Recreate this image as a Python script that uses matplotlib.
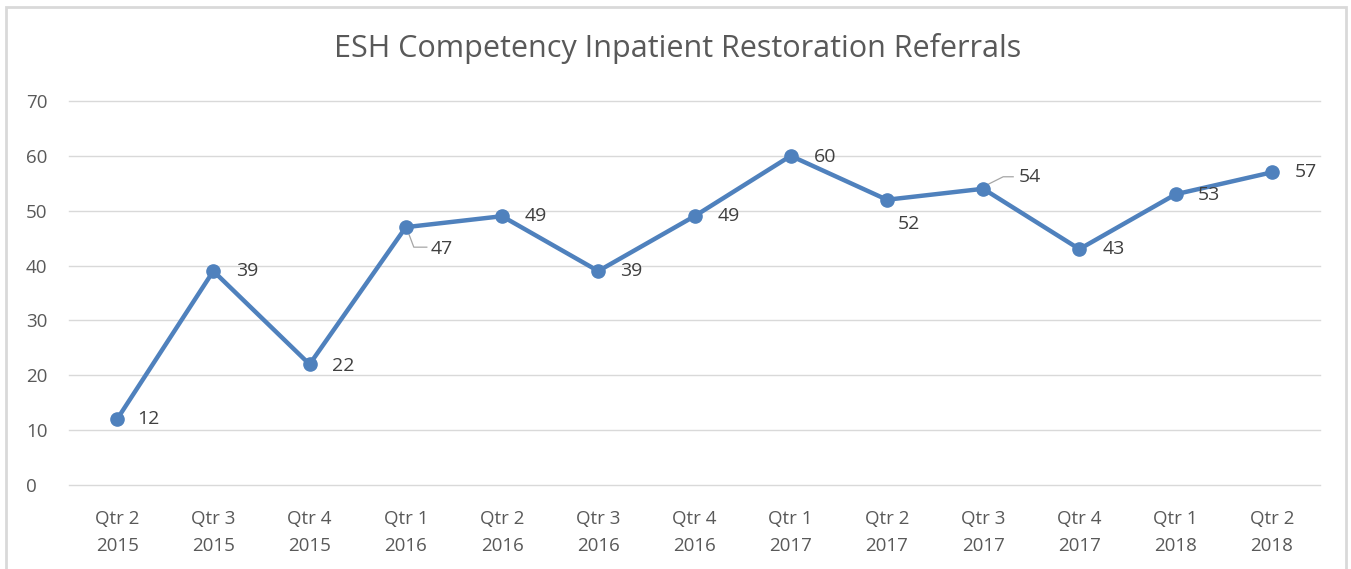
import matplotlib
matplotlib.use("Agg")
import matplotlib.pyplot as plt
from matplotlib.patches import Rectangle

quarters = ["Qtr 2\n2015", "Qtr 3\n2015", "Qtr 4\n2015", "Qtr 1\n2016", "Qtr 2\n2016",
            "Qtr 3\n2016", "Qtr 4\n2016", "Qtr 1\n2017", "Qtr 2\n2017", "Qtr 3\n2017",
            "Qtr 4\n2017", "Qtr 1\n2018", "Qtr 2\n2018"]
referrals = [12, 39, 22, 47, 49, 39, 49, 60, 52, 54, 43, 53, 57]
yticks = [0, 10, 20, 30, 40, 50, 60, 70]

# label offsets in pixels (dx to left edge, dy) -- excel puts a few off to the side
label_off = [(20, 0), (23, 0), (22, -2), (25, -22), (23, 0), (22, 0), (23, 0),
             (23, -1), (11, -24), (36, 12), (23, 0), (22, -1), (23, 0)]
leader = {3: [(2, -4), (8, -20), (21, -20)], 9: [(4, 4), (20, 12), (30, 12)]}

plt.rcParams["font.family"] = ["Open Sans", "DejaVu Sans"]

fig = plt.figure(figsize=(13.51, 5.69), dpi=100)
ax = fig.add_axes([69 / 1351, 84 / 569, (1320 - 69) / 1351, (485 - 101) / 569])
ax.set_xlim(-0.5, len(referrals) - 0.5)
ax.set_ylim(0, 70)

x = list(range(len(referrals)))
ax.plot(x, referrals, "-o", color="#4F81BD", linewidth=3.2, markersize=9.5, zorder=3)

for i, v in enumerate(referrals):
    dx, dy = label_off[i]
    ax.annotate(str(v), (i, v), xytext=(dx, dy), textcoords="offset pixels",
                ha="left", va="center", fontsize=14, color="#404040", zorder=4)
    if i in leader:
        disp = ax.transData.transform((i, v))
        inv = ax.transData.inverted()
        dpts = [inv.transform((disp[0] + a, disp[1] + b)) for a, b in leader[i]]
        ax.plot([p[0] for p in dpts], [p[1] for p in dpts], color="#A6A6A6",
                linewidth=0.9, zorder=2)

ax.set_yticks(yticks)
ax.set_xticks(x)
ax.set_xticklabels(quarters, linespacing=1.62)
ax.tick_params(axis="both", length=0, colors="#595959", labelsize=13.5)
ax.tick_params(axis="x", pad=18)
ax.tick_params(axis="y", pad=31)
for lab in ax.get_yticklabels():
    lab.set_horizontalalignment("left")
ax.grid(axis="y", color="#D9D9D9", linewidth=1)
for gl in ax.get_ygridlines():
    gl.set_clip_on(False)
ax.set_axisbelow(True)
for s in ax.spines.values():
    s.set_visible(False)

fig.text(678 / 1351, 1 - 49 / 569, "ESH Competency Inpatient Restoration Referrals",
         ha="center", va="center", fontsize=22, color="#595959")

fig.patches.append(Rectangle((6 / 1351, -0.05), (1346 - 6) / 1351, 1.05 - 7 / 569,
                             transform=fig.transFigure, fill=False,
                             edgecolor="#D9D9D9", linewidth=2, clip_on=False))

fig.savefig("out.png", dpi=100)
